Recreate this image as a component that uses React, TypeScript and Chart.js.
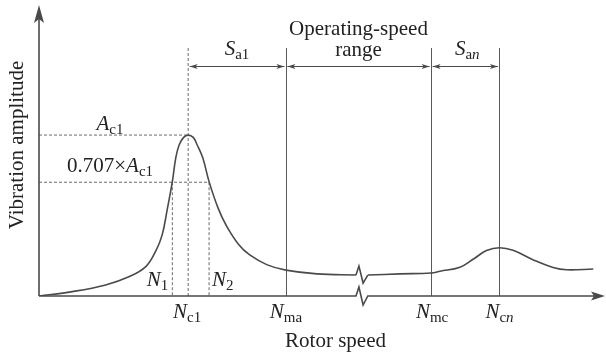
import React, { useEffect, useRef } from "react";
import { Chart, registerables } from "chart.js";
Chart.register(...registerables);

// Rotor speed (arbitrary units 0..100) and vibration amplitude (0..100)
const speedBefore = [0, 5.9, 11.8, 15.9, 18.9, 20.7, 21.8, 22.7, 23.6, 24.2, 24.8, 25.6, 26.4, 27.3, 28.0, 29.0, 30.1, 31.7, 33.1, 35.3, 37.3, 40.4, 43.7, 49.2, 56.1];
const ampBefore = [0, 1.5, 3.8, 6.6, 10.1, 15.6, 21.0, 29.8, 39.3, 47.4, 51.9, 54.5, 55.3, 54.5, 51.9, 47.4, 39.3, 30.2, 24.4, 17.8, 14.1, 10.7, 8.9, 7.6, 7.2];
const speedAfter = [58.2, 63.9, 69.4, 71.0, 74.5, 76.9, 79.2, 81.5, 83.9, 87.5, 91.0, 93.4, 98.1];
const ampAfter = [7.2, 7.6, 7.9, 8.5, 9.9, 12.7, 15.6, 16.6, 15.7, 12.4, 9.8, 9.0, 9.3];

const N1 = 23.6;
const Nc1 = 26.4;
const N2 = 30.1;
const Nma = 43.7;
const Nmc = 69.4;
const Ncn = 81.5;
const breakStart = 56.1;
const breakEnd = 58.2;
const Ac1 = 55.3;
const halfPowerFactor = 0.707;

const FONT = "'Liberation Serif', 'Times New Roman', serif";
const MAIN = 21;
const SUB = 15;
const LINE = "#4a4a4a";
const TEXT = "#222";

type Part = { t: string; italic?: boolean; sub?: boolean };

function fontFor(p: Part) {
  return `${p.italic ? "italic " : ""}${p.sub ? SUB : MAIN}px ${FONT}`;
}

function drawParts(ctx: CanvasRenderingContext2D, parts: Part[], x: number, y: number, align: "left" | "center" | "right") {
  ctx.save();
  ctx.textAlign = "left";
  ctx.textBaseline = "alphabetic";
  ctx.fillStyle = TEXT;
  let total = 0;
  const widths = parts.map((p) => {
    ctx.font = fontFor(p);
    const w = ctx.measureText(p.t).width;
    total += w;
    return w;
  });
  let cx = align === "left" ? x : align === "center" ? x - total / 2 : x - total;
  parts.forEach((p, i) => {
    ctx.font = fontFor(p);
    ctx.fillText(p.t, cx, p.sub ? y + 4 : y);
    cx += widths[i];
  });
  ctx.restore();
}

function arrowHead(ctx: CanvasRenderingContext2D, x: number, y: number, dir: number) {
  ctx.beginPath();
  ctx.moveTo(x, y);
  ctx.lineTo(x - dir * 8, y - 2.5);
  ctx.lineTo(x - dir * 6, y);
  ctx.lineTo(x - dir * 8, y + 2.5);
  ctx.closePath();
  ctx.fill();
}

const annotations = {
  id: "annotations",
  beforeDatasetsDraw(chart: any) {
    const { ctx, chartArea, scales } = chart;
    const xs = scales.x;
    const ys = scales.y;
    const px = (v: number) => xs.getPixelForValue(v);
    const py = (v: number) => ys.getPixelForValue(v);
    const y0 = chartArea.bottom;
    const left = chartArea.left;
    const topLine = chartArea.top + 43;
    const arrowY = chartArea.top + 61;

    ctx.save();
    ctx.strokeStyle = "#6a6a6a";
    ctx.lineWidth = 1;
    ctx.setLineDash([3, 2]);
    const peakY = py(Ac1);
    const halfY = py(Ac1 * halfPowerFactor);
    ctx.beginPath();
    ctx.moveTo(left, peakY);
    ctx.lineTo(px(Nc1), peakY);
    ctx.moveTo(left, halfY);
    ctx.lineTo(px(N2), halfY);
    ctx.moveTo(px(Nc1), topLine);
    ctx.lineTo(px(Nc1), y0);
    ctx.moveTo(px(N1), halfY);
    ctx.lineTo(px(N1), y0);
    ctx.moveTo(px(N2), halfY);
    ctx.lineTo(px(N2), y0);
    ctx.stroke();
    ctx.setLineDash([]);

    ctx.strokeStyle = "#5a5a5a";
    ctx.beginPath();
    [Nma, Nmc, Ncn].forEach((v) => {
      ctx.moveTo(Math.round(px(v)) + 0.5, topLine);
      ctx.lineTo(Math.round(px(v)) + 0.5, y0);
    });
    ctx.stroke();

    ctx.strokeStyle = LINE;
    ctx.fillStyle = LINE;
    const pairs: [number, number][] = [
      [Nc1, Nma],
      [Nma, Nmc],
      [Nmc, Ncn],
    ];
    pairs.forEach(([a, b]) => {
      const xa = px(a) + 1.5;
      const xb = px(b) - 1.5;
      ctx.beginPath();
      ctx.moveTo(xa, arrowY + 0.5);
      ctx.lineTo(xb, arrowY + 0.5);
      ctx.stroke();
      arrowHead(ctx, xa, arrowY + 0.5, -1);
      arrowHead(ctx, xb, arrowY + 0.5, 1);
    });
    ctx.restore();
  },
  afterDatasetsDraw(chart: any) {
    const { ctx, chartArea, scales } = chart;
    const xs = scales.x;
    const ys = scales.y;
    const px = (v: number) => xs.getPixelForValue(v);
    const py = (v: number) => ys.getPixelForValue(v);
    const y0 = chartArea.bottom;
    const left = chartArea.left;
    const bs = px(breakStart);
    const be = px(breakEnd);
    const bw = be - bs;

    ctx.save();
    ctx.strokeStyle = LINE;
    ctx.fillStyle = LINE;
    ctx.lineWidth = 1.6;
    ctx.lineJoin = "miter";

    const yc1 = py(ampBefore[ampBefore.length - 1]);
    const yc2 = py(ampAfter[0]);
    ctx.beginPath();
    ctx.moveTo(bs, yc1);
    ctx.lineTo(bs + bw * 0.25, yc1 - 9);
    ctx.lineTo(bs + bw * 0.6, yc1 + 8);
    ctx.lineTo(be, yc2);
    ctx.stroke();

    ctx.beginPath();
    ctx.moveTo(left, y0);
    ctx.lineTo(left, chartArea.top + 14);
    ctx.moveTo(left, y0);
    ctx.lineTo(bs, y0);
    ctx.lineTo(bs + bw * 0.25, y0 - 9);
    ctx.lineTo(bs + bw * 0.6, y0 + 9);
    ctx.lineTo(be, y0);
    ctx.lineTo(chartArea.right - 10, y0);
    ctx.stroke();

    ctx.beginPath();
    ctx.moveTo(left, chartArea.top);
    ctx.lineTo(left + 5, chartArea.top + 18);
    ctx.lineTo(left, chartArea.top + 14);
    ctx.lineTo(left - 5, chartArea.top + 18);
    ctx.closePath();
    ctx.fill();
    const xr = chartArea.right + 1;
    ctx.beginPath();
    ctx.moveTo(xr, y0);
    ctx.lineTo(xr - 14, y0 - 4.5);
    ctx.lineTo(xr - 11, y0);
    ctx.lineTo(xr - 14, y0 + 4.5);
    ctx.closePath();
    ctx.fill();
    ctx.restore();

    const peakY = py(Ac1);
    const halfY = py(Ac1 * halfPowerFactor);
    const midLeft = left + 71;
    drawParts(ctx, [{ t: "A", italic: true }, { t: "c1", sub: true }], midLeft, peakY - 5, "center");
    drawParts(ctx, [{ t: "0.707×" }, { t: "A", italic: true }, { t: "c1", sub: true }], midLeft, halfY - 10, "center");

    drawParts(ctx, [{ t: "N", italic: true }, { t: "1", sub: true }], px(N1) - 4, y0 - 10, "right");
    drawParts(ctx, [{ t: "N", italic: true }, { t: "2", sub: true }], px(N2) + 3, y0 - 10, "left");

    const labY = y0 + 22;
    drawParts(ctx, [{ t: "N", italic: true }, { t: "c1", sub: true }], px(Nc1) - 1, labY, "center");
    drawParts(ctx, [{ t: "N", italic: true }, { t: "ma", sub: true }], px(Nma), labY, "center");
    drawParts(ctx, [{ t: "N", italic: true }, { t: "mc", sub: true }], px(Nmc) + 1, labY, "center");
    drawParts(ctx, [{ t: "N", italic: true }, { t: "c", sub: true }, { t: "n", sub: true, italic: true }], px(Ncn), labY, "center");

    drawParts(ctx, [{ t: "Rotor speed" }], (left + chartArea.right) / 2 + 14, y0 + 51, "center");

    const topY = chartArea.top + 50;
    drawParts(ctx, [{ t: "S", italic: true }, { t: "a1", sub: true }], (px(Nc1) + px(Nma)) / 2, topY, "center");
    drawParts(ctx, [{ t: "Operating-speed" }], (px(Nma) + px(Nmc)) / 2, chartArea.top + 30, "center");
    drawParts(ctx, [{ t: "range" }], (px(Nma) + px(Nmc)) / 2, topY + 1, "center");
    drawParts(ctx, [{ t: "S", italic: true }, { t: "a", sub: true }, { t: "n", sub: true, italic: true }], (px(Nmc) + px(Ncn)) / 2 + 2, topY, "center");

    ctx.save();
    ctx.translate(23, 145);
    ctx.rotate(-Math.PI / 2);
    ctx.font = `${MAIN}px ${FONT}`;
    ctx.fillStyle = TEXT;
    ctx.textAlign = "center";
    ctx.textBaseline = "alphabetic";
    ctx.fillText("Vibration amplitude", 0, 0);
    ctx.restore();
  },
};

export default function App() {
  const ref = useRef<HTMLCanvasElement | null>(null);
  useEffect(() => {
    if (!ref.current) return;
    const toPts = (xs: number[], ys: number[]) => xs.map((x, i) => ({ x, y: ys[i] }));
    const chart = new Chart(ref.current, {
      type: "line",
      data: {
        datasets: [
          {
            data: toPts(speedBefore, ampBefore),
            borderColor: LINE,
            borderWidth: 1.6,
            pointRadius: 0,
            tension: 0.4,
            fill: false,
          },
          {
            data: toPts(speedAfter, ampAfter),
            borderColor: LINE,
            borderWidth: 1.6,
            pointRadius: 0,
            tension: 0.4,
            fill: false,
          },
        ],
      },
      options: {
        animation: false,
        responsive: false,
        devicePixelRatio: 1,
        layout: { padding: { left: 39, right: 2, top: 5, bottom: 60 } },
        scales: {
          x: { type: "linear", min: 0, max: 100, display: false },
          y: { type: "linear", min: 0, max: 100, display: false },
        },
        plugins: { legend: { display: false }, tooltip: { enabled: false } },
      },
      plugins: [annotations],
    });
    return () => chart.destroy();
  }, []);
  return (
    <div style={{ position: "fixed", left: 0, top: 0, width: 606, height: 356, background: "#fff" }}>
      <canvas ref={ref} width={606} height={356} style={{ width: 606, height: 356 }} />
    </div>
  );
}
